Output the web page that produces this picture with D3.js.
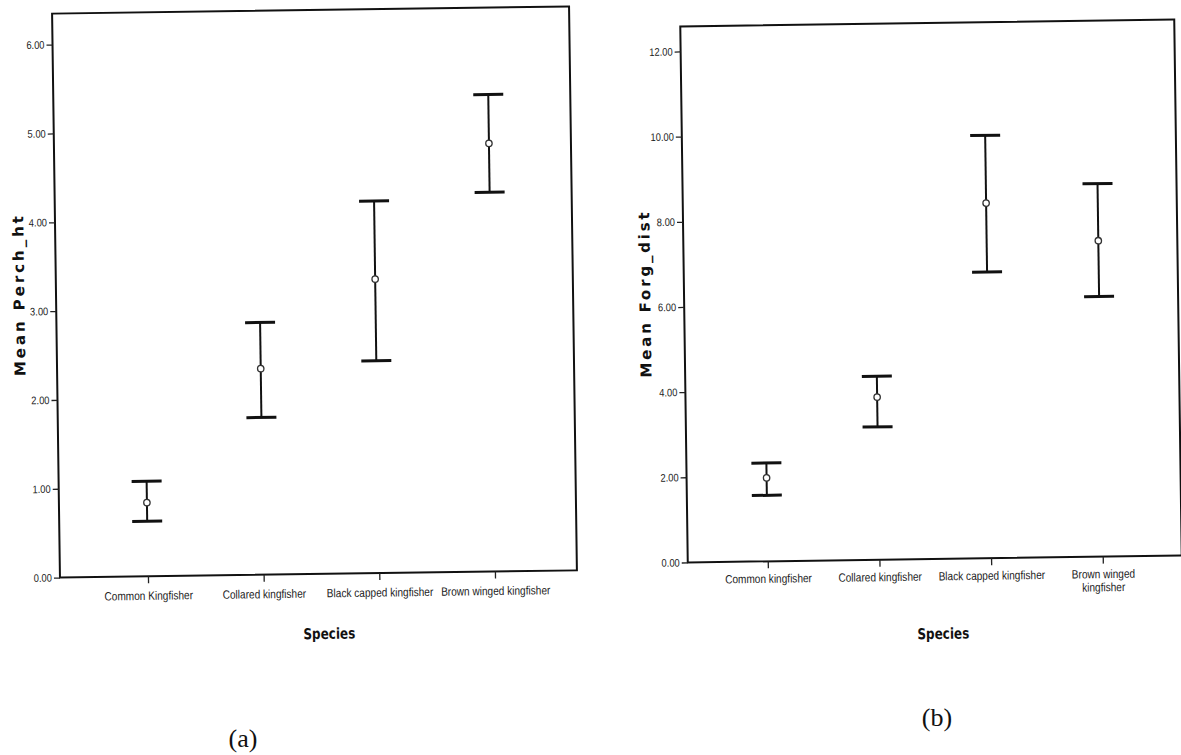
<!DOCTYPE html>
<html>
<head>
<meta charset="utf-8">
<script src="https://cdn.jsdelivr.net/npm/d3@7"></script>
<style>
  body { margin: 0; background: #fff; }
  svg { display: block; }
  .tick text { font-family: "Liberation Sans", Arial, sans-serif; fill: #222; }
</style>
</head>
<body>
<div id="chart"></div>
<script>
// species on each panel (b wraps its last label)
var speciesA = ["Common Kingfisher", "Collared kingfisher", "Black capped kingfisher", "Brown winged kingfisher"];
var speciesB = ["Common kingfisher", "Collared kingfisher", "Black capped kingfisher", "Brown winged\nkingfisher"];

// (a) Mean Perch_ht with error bar ends
var perchMean = [0.83, 2.32, 3.31, 4.82];
var perchLow  = [0.62, 1.77, 2.39, 4.27];
var perchHigh = [1.07, 2.84, 4.19, 5.37];
var perchTicks = [0, 1, 2, 3, 4, 5, 6];

// (b) Mean Forg_dist with error bar ends
var forgMean = [1.96, 3.82, 8.34, 7.42];
var forgLow  = [1.55, 3.12, 6.72, 6.11];
var forgHigh = [2.31, 4.31, 9.93, 8.76];
var forgTicks = [0, 2, 4, 6, 8, 10, 12];

var width = 1181, height = 755;

var svg = d3.select("#chart").append("svg")
  .attr("width", width)
  .attr("height", height);

svg.append("rect").attr("width", width).attr("height", height).attr("fill", "#fff");

// squeeze text to look like the narrow SPSS font
function condense(sel, f) {
  sel.each(function() {
    var len = this.getComputedTextLength();
    d3.select(this).attr("textLength", len * f).attr("lengthAdjust", "spacingAndGlyphs");
  });
}

function drawPanel(p) {
  // the scan is slightly tilted
  var g = svg.append("g")
    .attr("transform", "rotate(" + p.rot + "," + ((p.x0 + p.x1) / 2) + "," + ((p.y0 + p.y1) / 2) + ")");

  var y = d3.scaleLinear().domain([0, p.yMax]).range([p.y1, p.yTop]);
  var x = d3.scalePoint().domain(p.cats).range([p.x0 + p.padL, p.x1 - p.padR]);

  // frame
  g.append("rect")
    .attr("x", p.x0).attr("y", p.y0)
    .attr("width", p.x1 - p.x0).attr("height", p.y1 - p.y0)
    .attr("fill", "none").attr("stroke", "#111").attr("stroke-width", 2);

  var ya = g.append("g")
    .attr("transform", "translate(" + p.x0 + ",0)")
    .call(d3.axisLeft(y).tickValues(p.ticks).tickFormat(d3.format(".2f")).tickSize(6).tickPadding(2));
  ya.select(".domain").remove();
  ya.selectAll(".tick line").attr("stroke", "#222").attr("stroke-width", 1.3);
  ya.selectAll(".tick text").attr("font-size", 11);
  condense(ya.selectAll(".tick text"), 0.85);

  var xa = g.append("g")
    .attr("transform", "translate(0," + p.y1 + ")")
    .call(d3.axisBottom(x).tickSize(7).tickPadding(p.labelPad));
  xa.select(".domain").remove();
  xa.selectAll(".tick line").attr("stroke", "#222").attr("stroke-width", 1.3);
  xa.selectAll(".tick text")
    .attr("font-size", 12)
    .each(function(d) {
      var t = d3.select(this), parts = d.split("\n");
      if (parts.length > 1) {
        t.text(null);
        parts.forEach(function(s, i) {
          t.append("tspan").attr("x", 0).attr("dy", i === 0 ? "0.71em" : "1.1em").text(s);
        });
        t.attr("dy", null);
      }
    });
  condense(xa.selectAll(".tick text").filter(function(d) { return d.indexOf("\n") < 0; }), 0.84);
  condense(xa.selectAll(".tick text tspan"), 0.84);

  // error bars
  var bars = g.selectAll(".bar").data(p.cats).enter().append("g").attr("class", "bar");
  bars.append("line")
    .attr("x1", function(d) { return x(d); }).attr("x2", function(d) { return x(d); })
    .attr("y1", function(d, i) { return y(p.high[i]); })
    .attr("y2", function(d, i) { return y(p.low[i]); })
    .attr("stroke", "#111").attr("stroke-width", 2);
  [p.high, p.low].forEach(function(arr) {
    bars.append("line")
      .attr("x1", function(d) { return x(d) - 15; }).attr("x2", function(d) { return x(d) + 15; })
      .attr("y1", function(d, i) { return y(arr[i]); })
      .attr("y2", function(d, i) { return y(arr[i]); })
      .attr("stroke", "#111").attr("stroke-width", 3);
  });
  bars.append("circle")
    .attr("cx", function(d) { return x(d); })
    .attr("cy", function(d, i) { return y(p.mean[i]); })
    .attr("r", 3.2)
    .attr("fill", "#fff").attr("stroke", "#333").attr("stroke-width", 1.3);

  // axis titles
  var mid = (p.y0 + p.y1) / 2;
  g.append("text")
    .attr("transform", "translate(" + (p.x0 - p.titleOff) + "," + mid + ") rotate(-90)")
    .attr("text-anchor", "middle")
    .attr("dy", "0.35em")
    .attr("font-family", "DejaVu Sans, sans-serif")
    .attr("font-weight", "bold").attr("font-size", 15)
    .attr("fill", "#111")
    .attr("textLength", p.titleLen).attr("lengthAdjust", "spacing")
    .text(p.yTitle);

  var sp = g.append("text")
    .attr("x", (x.range()[0] + x.range()[1]) / 2 + 7)
    .attr("y", p.speciesY)
    .attr("text-anchor", "middle")
    .attr("font-family", "DejaVu Sans, sans-serif")
    .attr("font-weight", "bold").attr("font-size", 15)
    .attr("fill", "#111")
    .text("Species");
  condense(sp, 0.8);
}

drawPanel({
  cats: speciesA, mean: perchMean, low: perchLow, high: perchHigh, ticks: perchTicks,
  yMax: 6, x0: 56, x1: 573, y0: 10, y1: 574, yTop: 41, padL: 88, padR: 82,
  rot: -0.8, labelPad: 8, titleOff: 37, titleLen: 160, speciesY: 639,
  yTitle: "Mean Perch_ht"
});

drawPanel({
  cats: speciesB, mean: forgMean, low: forgLow, high: forgHigh, ticks: forgTicks,
  yMax: 12, x0: 684, x1: 1178, y0: 23, y1: 559, yTop: 48, padL: 80, padR: 79,
  rot: -0.8, labelPad: 6, titleOff: 39, titleLen: 165, speciesY: 639,
  yTitle: "Mean Forg_dist"
});

// panel letters
svg.append("text").attr("x", 243).attr("y", 747).attr("text-anchor", "middle")
  .attr("font-family", "Liberation Serif, Times New Roman, serif").attr("font-size", 26)
  .attr("fill", "#111").text("(a)");
svg.append("text").attr("x", 937).attr("y", 726).attr("text-anchor", "middle")
  .attr("font-family", "Liberation Serif, Times New Roman, serif").attr("font-size", 26)
  .attr("fill", "#111").text("(b)");
</script>
</body>
</html>
